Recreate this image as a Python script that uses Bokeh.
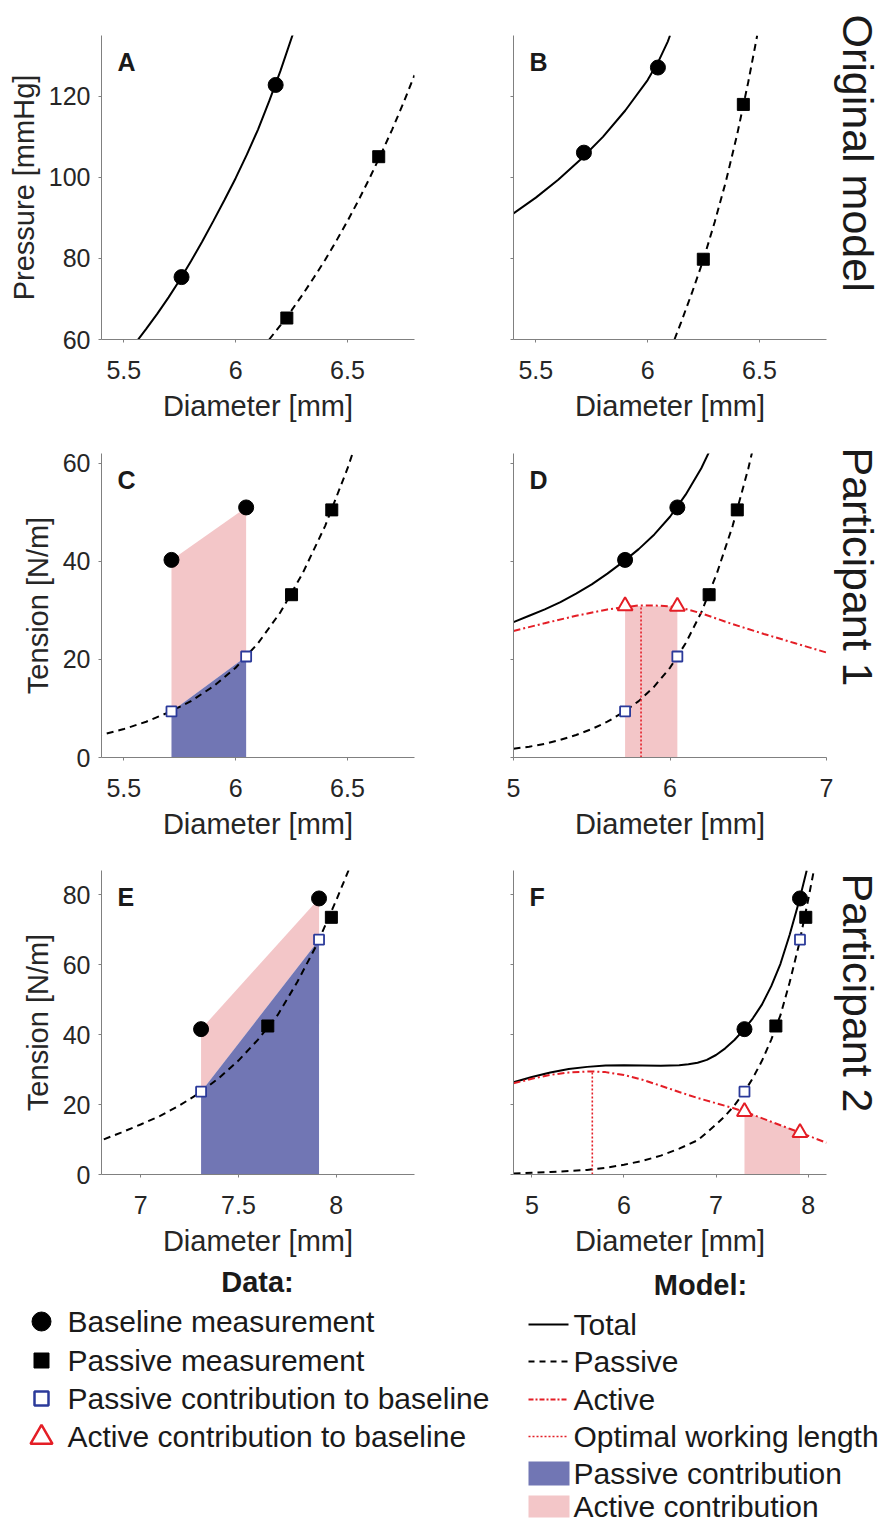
import numpy as np
from bokeh.plotting import figure
from bokeh.layouts import row, column
from bokeh.models import Range1d, FixedTicker, Label
from bokeh.embed import file_html
from bokeh.resources import INLINE
from bokeh.core.properties import value

FONT = "Liberation Sans"
TXT = "#1a1a1a"
TICKTXT = "#262626"
AXC = "#808080"
RED = "#e41e26"
BLUE_EDGE = "#2b3a9a"
BLUE_FILL = "#7176b4"
PINK_FILL = "#f3c6c8"

# ---------------- data ----------------
# Panel A
A_base_d = [5.758, 6.179]
A_base_p = [75.4, 122.8]
A_pass_d = [6.229, 6.64]
A_pass_p = [65.3, 105.1]
A_total_d = [5.55, 5.6, 5.65, 5.7, 5.75, 5.8, 5.85, 5.9, 5.95, 6.0, 6.05, 6.1, 6.15, 6.2, 6.26]
A_total_p = [59.0, 62.6, 66.4, 70.4, 74.7, 79.3, 84.1, 89.2, 94.4, 99.8, 105.6, 111.8, 118.8, 126.2, 136.0]
A_passive_d = [6.15, 6.2, 6.25, 6.3, 6.35, 6.4, 6.45, 6.5, 6.55, 6.6, 6.65, 6.7, 6.75, 6.8]
A_passive_p = [60.0, 63.5, 67.2, 71.1, 75.3, 79.6, 84.3, 89.2, 94.4, 99.9, 105.7, 111.8, 118.3, 125.2]

# Panel B
B_base_d = [5.715, 6.046]
B_base_p = [106.1, 127.1]
B_pass_d = [6.249, 6.428]
B_pass_p = [79.8, 118.0]
B_total_d = [5.4, 5.5, 5.6, 5.7, 5.8, 5.9, 6.0, 6.05, 6.09, 6.1]
B_total_p = [91.1, 95.0, 99.4, 104.4, 110.0, 116.5, 124.0, 128.8, 133.5, 135.0]
B_passive_d = [6.12, 6.15, 6.2, 6.25, 6.3, 6.35, 6.4, 6.45, 6.49]
B_passive_p = [60.0, 64.3, 71.8, 79.8, 89.0, 99.0, 110.5, 123.5, 135.0]

# Participant 1 (panels C, D)
P1_base_d = [5.713, 6.047]
P1_base_t = [40.3, 51.0]
P1_pass_d = [6.25, 6.43]
P1_pass_t = [33.2, 50.5]
P1_pcon_t = [9.4, 20.6]
P1_acon_t = [30.9, 30.8]
P1_passive_d = [5.0, 5.1, 5.2, 5.3, 5.4, 5.5, 5.6, 5.7, 5.8, 5.9, 6.0, 6.1, 6.2, 6.3, 6.4, 6.5, 6.53]
P1_passive_t = [1.8, 2.2, 2.8, 3.6, 4.6, 5.8, 7.3, 9.2, 11.5, 14.5, 18.3, 23.3, 29.6, 37.6, 47.2, 58.9, 63.0]
P1_total_d = [5.0, 5.1, 5.2, 5.3, 5.4, 5.5, 5.6, 5.7, 5.8, 5.9, 6.0, 6.1, 6.2, 6.26]
P1_total_t = [27.6, 28.9, 30.2, 31.7, 33.4, 35.3, 37.5, 39.9, 42.5, 45.5, 49.1, 53.6, 59.0, 63.0]
P1_active_d = [5.0, 5.2, 5.4, 5.6, 5.8, 5.9, 6.0, 6.1, 6.2, 6.3, 6.4, 6.6, 6.8, 7.0]
P1_active_t = [25.8, 27.4, 28.9, 30.2, 31.0, 31.0, 30.85, 30.3, 29.4, 28.3, 27.2, 25.2, 23.3, 21.4]
P1_opt_d = 5.815
P1_opt_t = 31.0

# Participant 2 (panels E, F)
P2_base_d = [7.309, 7.912]
P2_base_t = [41.6, 79.0]
P2_pass_d = [7.65, 7.975]
P2_pass_t = [42.5, 73.6]
P2_pcon_t = [23.7, 67.2]
P2_acon_t = [18.0, 12.0]
P2_passive_d = [4.8, 5.0, 5.2, 5.4, 5.6, 5.8, 6.0, 6.2, 6.4, 6.6, 6.8, 6.9, 7.0, 7.1, 7.2,
                7.3, 7.4, 7.5, 7.6, 7.7, 7.8, 7.9, 8.0, 8.07]
P2_passive_t = [0.3, 0.5, 0.7, 1.0, 1.3, 1.9, 2.8, 3.9, 5.4, 7.4, 9.8, 12.0, 14.3, 16.8, 19.8,
                23.3, 27.6, 32.6, 38.6, 45.6, 55.0, 65.7, 78.5, 88.0]
P2_active_d = [4.8, 5.0, 5.2, 5.4, 5.65, 5.8, 6.0, 6.2, 6.4, 6.6, 6.8, 7.0, 7.2, 7.4, 7.6, 7.8, 8.0, 8.2]
P2_active_t = [26.1, 27.4, 28.5, 29.2, 29.5, 29.3, 28.5, 27.1, 25.4, 23.6, 21.9, 20.4, 18.9, 17.1,
               15.1, 13.1, 11.1, 9.1]
P2_total_d = [4.8, 5.0, 5.2, 5.4, 5.6, 5.8, 6.0, 6.2, 6.4, 6.6, 6.7, 6.8, 6.9, 7.0, 7.1, 7.2, 7.3,
              7.4, 7.5, 7.6, 7.7, 7.8, 7.9, 7.985]
P2_total_t = [26.4, 27.9, 29.2, 30.2, 30.8, 31.2, 31.3, 31.2, 31.1, 31.3, 31.55, 32.0, 32.8, 34.2,
              36.1, 38.5, 41.4, 44.7, 48.7, 53.9, 60.3, 68.6, 78.0, 87.0]
P2_opt_d = 5.656
P2_opt_t = 29.5

# ticks
AB_xticks = [5.5, 6.0, 6.5]
AB_xlabels = ["5.5", "6", "6.5"]
AB_yticks = [60, 80, 100, 120]
AB_ylabels = ["60", "80", "100", "120"]
C_xticks = [5.5, 6.0, 6.5]
C_xlabels = ["5.5", "6", "6.5"]
D_xticks = [5, 6, 7]
D_xlabels = ["5", "6", "7"]
CD_yticks = [0, 20, 40, 60]
CD_ylabels = ["0", "20", "40", "60"]
E_xticks = [7.0, 7.5, 8.0]
E_xlabels = ["7", "7.5", "8"]
F_xticks = [5, 6, 7, 8]
F_xlabels = ["5", "6", "7", "8"]
EF_yticks = [0, 20, 40, 60, 80]
EF_ylabels = ["0", "20", "40", "60", "80"]

row_titles = ["Original model", "Participant 1", "Participant 2"]
data_labels = ["Baseline measurement", "Passive measurement",
               "Passive contribution to baseline", "Active contribution to baseline"]
model_labels = ["Total", "Passive", "Active", "Optimal working length",
                "Passive contribution", "Active contribution"]

# ---------------- layout constants ----------------
TOTAL_W, TOTAL_H = 891, 1524
FW, FH = 313, 304
R1_TOP, R2_TOP, R3_TOP = 35, 14, 13
R1_BOT, R2_BOT, R3_BOT = 100, 100, 92
LEFT_A, RIGHT_A, LEFT_B, RIGHT_B = 101, 10, 89, 7
LABW = TOTAL_W - (LEFT_A + FW + RIGHT_A) - (LEFT_B + FW + RIGHT_B)

SOLID_W = 2
DASH = "7 5"
DASHDOT = "7 3 2 3"
DOT = "2 2"


def panel(xr, yr, xt, xl, yt, yl, ylab, left, right, top, bottom, letter):
    p = figure(frame_width=FW, frame_height=FH, x_range=Range1d(*xr), y_range=Range1d(*yr),
               output_backend="svg", toolbar_location=None,
               min_border_left=left, min_border_right=right,
               min_border_top=top, min_border_bottom=bottom)
    p.outline_line_color = None
    p.xgrid.visible = False
    p.ygrid.visible = False
    p.background_fill_color = "white"
    p.border_fill_color = "white"
    for ax, ticks, labels in ((p.xaxis[0], xt, xl), (p.yaxis[0], yt, yl)):
        ax.ticker = FixedTicker(ticks=ticks)
        ax.major_label_overrides = {t: s for t, s in zip(ticks, labels)}
        ax.axis_line_color = AXC
        ax.axis_line_width = 1
        ax.major_tick_line_color = AXC
        ax.major_tick_out = 3
        ax.major_tick_in = 0
        ax.minor_tick_line_color = None
        ax.major_label_text_font = FONT
        ax.major_label_text_font_size = "25px"
        ax.major_label_text_color = TICKTXT
        ax.axis_label_text_font = FONT
        ax.axis_label_text_font_size = "29px"
        ax.axis_label_text_font_style = "normal"
        ax.axis_label_text_color = TICKTXT
    p.xaxis.major_label_standoff = 18
    p.xaxis.axis_label_standoff = 8
    p.yaxis.major_label_standoff = 8
    p.yaxis.axis_label_standoff = 6
    p.xaxis.axis_label = "Diameter [mm]"
    if ylab:
        p.yaxis.axis_label = ylab
    lx = xr[0] + 16.0 * (xr[1] - xr[0]) / FW
    ly = yr[1] - 26.0 * (yr[1] - yr[0]) / FH
    p.add_layout(Label(x=lx, y=ly, text=letter, text_font=FONT, text_font_size="25px",
                       text_font_style="bold", text_color=TXT, text_baseline="middle",
                       text_align="left"))
    return p


def markers(p, base_d, base_t, pass_d, pass_t, pcon_t=None, acon_t=None):
    if pcon_t is not None:
        p.scatter(base_d, pcon_t, marker="square", size=10, line_color=BLUE_EDGE,
                  fill_color="white", line_width=1.8)
    if acon_t is not None:
        p.scatter(base_d, acon_t, marker="triangle", size=15, line_color=RED,
                  fill_color="white", line_width=2)
    p.scatter(base_d, base_t, marker="circle", size=15, color="black")
    p.scatter(pass_d, pass_t, marker="square", size=12, color="black")


# ---- Panel A
pA = panel((5.4, 6.8), (60, 135), AB_xticks, AB_xlabels, AB_yticks, AB_ylabels,
           "Pressure [mmHg]", LEFT_A, RIGHT_A, R1_TOP, R1_BOT, "A")
pA.line(A_total_d, A_total_p, line_color="black", line_width=SOLID_W)
pA.line(A_passive_d, A_passive_p, line_color="black", line_width=SOLID_W, line_dash=DASH)
markers(pA, A_base_d, A_base_p, A_pass_d, A_pass_p)

# ---- Panel B
pB = panel((5.4, 6.8), (60, 135), AB_xticks, AB_xlabels, AB_yticks, [""] * len(AB_yticks),
           None, LEFT_B, RIGHT_B, R1_TOP, R1_BOT, "B")
pB.line(B_total_d, B_total_p, line_color="black", line_width=SOLID_W)
pB.line(B_passive_d, B_passive_p, line_color="black", line_width=SOLID_W, line_dash=DASH)
markers(pB, B_base_d, B_base_p, B_pass_d, B_pass_p)

# ---- Panel C
pC = panel((5.4, 6.8), (0, 62), C_xticks, C_xlabels, CD_yticks, CD_ylabels,
           "Tension [N/m]", LEFT_A, RIGHT_A, R2_TOP, R2_BOT, "C")
d0, d1 = P1_base_d
pC.patch([d0, d0, d1, d1], [P1_pcon_t[0], P1_base_t[0], P1_base_t[1], P1_pcon_t[1]],
         fill_color=PINK_FILL, line_color=None)
pC.patch([d0, d0, d1, d1], [0, P1_pcon_t[0], P1_pcon_t[1], 0],
         fill_color=BLUE_FILL, line_color=None)
pC.line(P1_passive_d, P1_passive_t, line_color="black", line_width=SOLID_W, line_dash=DASH)
markers(pC, P1_base_d, P1_base_t, P1_pass_d, P1_pass_t, pcon_t=P1_pcon_t)

# ---- Panel D
pD = panel((5, 7), (0, 62), D_xticks, D_xlabels, CD_yticks, [""] * len(CD_yticks),
           None, LEFT_B, RIGHT_B, R2_TOP, R2_BOT, "D")
pD.patch([d0, d0, d1, d1], [0, P1_acon_t[0], P1_acon_t[1], 0], fill_color=PINK_FILL, line_color=None)
pD.line(P1_total_d, P1_total_t, line_color="black", line_width=SOLID_W)
pD.line(P1_passive_d, P1_passive_t, line_color="black", line_width=SOLID_W, line_dash=DASH)
pD.line(P1_active_d, P1_active_t, line_color=RED, line_width=SOLID_W, line_dash=DASHDOT)
pD.segment(x0=[P1_opt_d], y0=[0], x1=[P1_opt_d], y1=[P1_opt_t], line_color=RED,
           line_width=1.6, line_dash=DOT)
markers(pD, P1_base_d, P1_base_t, P1_pass_d, P1_pass_t, pcon_t=P1_pcon_t, acon_t=P1_acon_t)

# ---- Panel E
pE = panel((6.8, 8.4), (0, 87), E_xticks, E_xlabels, EF_yticks, EF_ylabels,
           "Tension [N/m]", LEFT_A, RIGHT_A, R3_TOP, R3_BOT, "E")
e0, e1 = P2_base_d
pE.patch([e0, e0, e1, e1], [P2_pcon_t[0], P2_base_t[0], P2_base_t[1], P2_pcon_t[1]],
         fill_color=PINK_FILL, line_color=None)
pE.patch([e0, e0, e1, e1], [0, P2_pcon_t[0], P2_pcon_t[1], 0],
         fill_color=BLUE_FILL, line_color=None)
pE.line(P2_passive_d, P2_passive_t, line_color="black", line_width=SOLID_W, line_dash=DASH)
markers(pE, P2_base_d, P2_base_t, P2_pass_d, P2_pass_t, pcon_t=P2_pcon_t)

# ---- Panel F
pF = panel((4.8, 8.2), (0, 87), F_xticks, F_xlabels, EF_yticks, [""] * len(EF_yticks),
           None, LEFT_B, RIGHT_B, R3_TOP, R3_BOT, "F")
pF.patch([e0, e0, e1, e1], [0, P2_acon_t[0], P2_acon_t[1], 0], fill_color=PINK_FILL, line_color=None)
pF.line(P2_total_d, P2_total_t, line_color="black", line_width=SOLID_W)
pF.line(P2_passive_d, P2_passive_t, line_color="black", line_width=SOLID_W, line_dash=DASH)
pF.line(P2_active_d, P2_active_t, line_color=RED, line_width=SOLID_W, line_dash=DASHDOT)
pF.segment(x0=[P2_opt_d], y0=[0], x1=[P2_opt_d], y1=[P2_opt_t], line_color=RED,
           line_width=1.6, line_dash=DOT)
markers(pF, P2_base_d, P2_base_t, P2_pass_d, P2_pass_t, pcon_t=P2_pcon_t, acon_t=P2_acon_t)

H1 = R1_TOP + FH + R1_BOT
H2 = R2_TOP + FH + R2_BOT
H3 = R3_TOP + FH + R3_BOT
GRID_H = H1 + H2 + H3

# ---- one tall strip holding the three rotated row titles (reading top to bottom)
title_start = [14, 447, 873]   # where each title begins, from the top of the page
lab = figure(width=LABW, height=GRID_H, x_range=Range1d(0, LABW), y_range=Range1d(0, GRID_H),
             x_axis_type=None, y_axis_type=None, output_backend="svg",
             toolbar_location=None, min_border=0)
lab.outline_line_color = None
lab.text(x=[24] * 3, y=[GRID_H - s for s in title_start], text=row_titles, angle=-np.pi / 2,
         text_align="left", text_baseline="middle",
         text_font=value(FONT), text_font_size="43px", text_color=TXT)

# ---- legend figure (y measured downward from its top)
LEG_TOP = GRID_H
LH = TOTAL_H - LEG_TOP
leg = figure(width=TOTAL_W, height=LH, x_range=Range1d(0, TOTAL_W), y_range=Range1d(LH, 0),
             x_axis_type=None, y_axis_type=None, output_backend="svg",
             toolbar_location=None, min_border=0)
leg.outline_line_color = None

data_y = [y - LEG_TOP for y in (1321, 1360, 1398, 1436)]
model_y = [y - LEG_TOP for y in (1324, 1361, 1399, 1436, 1473, 1506)]
DATA_TITLE_Y = 1281 - LEG_TOP
MODEL_TITLE_Y = 1284 - LEG_TOP
MX = 41
TX_D = 67
LX0, LX1 = 528, 568
TX_M = 573
LEGFS = "30px"

leg.text(x=[257], y=[DATA_TITLE_Y], text=["Data:"], text_align="center", text_baseline="middle",
         text_font=value(FONT), text_font_size="29px", text_font_style="bold", text_color=TXT)
leg.text(x=[700], y=[MODEL_TITLE_Y], text=["Model:"], text_align="center", text_baseline="middle",
         text_font=value(FONT), text_font_size="29px", text_font_style="bold", text_color=TXT)

leg.scatter([MX], [data_y[0]], marker="circle", size=19, color="black")
leg.scatter([MX], [data_y[1]], marker="square", size=15, color="black")
leg.scatter([MX], [data_y[2]], marker="square", size=14, line_color=BLUE_EDGE,
            fill_color="white", line_width=2.5)
leg.scatter([MX], [data_y[3] + 1], marker="triangle", size=22, line_color=RED,
            fill_color="white", line_width=2.5)
leg.text(x=[TX_D] * len(data_labels), y=data_y, text=data_labels, text_align="left",
         text_baseline="middle", text_font=value(FONT), text_font_size=LEGFS, text_color=TXT)

leg.segment(x0=[LX0], y0=[model_y[0]], x1=[LX1], y1=[model_y[0]], line_color="black", line_width=2)
leg.segment(x0=[LX0], y0=[model_y[1]], x1=[LX1], y1=[model_y[1]], line_color="black",
            line_width=2, line_dash="6 5")
leg.segment(x0=[LX0], y0=[model_y[2]], x1=[LX1], y1=[model_y[2]], line_color=RED,
            line_width=2, line_dash="5 2 2 2")
leg.segment(x0=[LX0], y0=[model_y[3]], x1=[LX1], y1=[model_y[3]], line_color=RED,
            line_width=1.6, line_dash=DOT)
leg.quad(left=[LX0], right=[LX1 + 1], top=[model_y[4] - 12], bottom=[model_y[4] + 12],
         fill_color=BLUE_FILL, line_color=None)
leg.quad(left=[LX0], right=[LX1 + 1], top=[model_y[5] - 11], bottom=[model_y[5] + 11],
         fill_color=PINK_FILL, line_color=None)
leg.text(x=[TX_M] * len(model_labels), y=model_y, text=model_labels, text_align="left",
         text_baseline="middle", text_font=value(FONT), text_font_size=LEGFS, text_color=TXT)

grid = column(row(pA, pB), row(pC, pD), row(pE, pF))
layout = column(row(grid, lab), leg)

open("out.html", "w").write(file_html(layout, INLINE))
